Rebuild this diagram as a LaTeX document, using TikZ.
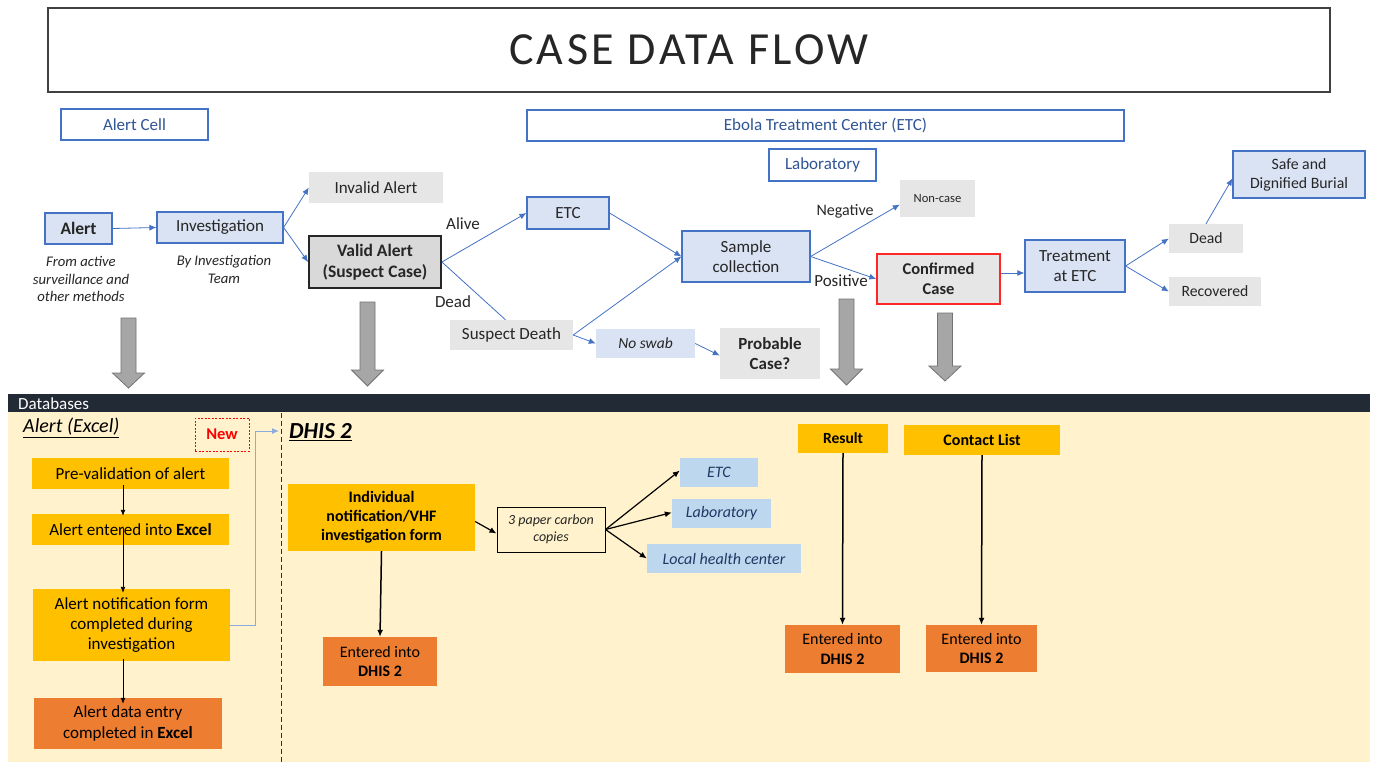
\documentclass[tikz,border=0pt]{standalone}
\usepackage{fontspec}
\setmainfont{Carlito}
\newfontfamily\titlefont[LetterSpace=7.5]{Carlito}
\usetikzlibrary{arrows.meta}
\definecolor{bl}{HTML}{4472C4}
\definecolor{lbl}{HTML}{DAE3F3}
\definecolor{dbl}{HTML}{2F5597}
\definecolor{gry}{HTML}{E7E6E6}
\definecolor{gry2}{HTML}{D9D9D9}
\definecolor{org}{HTML}{FFC000}
\definecolor{dorg}{HTML}{ED7D31}
\definecolor{sky}{HTML}{BDD7EE}
\definecolor{navy}{HTML}{1F3864}
\definecolor{cream}{HTML}{FFF2CC}
\definecolor{bar}{HTML}{222A35}
\definecolor{txt}{HTML}{262626}
\definecolor{lnk}{HTML}{8FAADC}
\newcommand{\fs}[1]{\fontsize{#1}{\the\dimexpr#1pt*6/5\relax}\selectfont}
\newcommand{\grayarrow}[4]{%
  \draw[fill=black!35,draw=black!55,line width=0.8pt] (#1-7.5,#2) -- (#1+7.5,#2) -- (#1+7.5,#3) -- (#1+16,#3) -- (#1,#4) -- (#1-16,#3) -- (#1-7.5,#3) -- cycle;}
\tikzset{
  base/.style={inner sep=0pt, align=center, text=txt, font=\fs{17}},
  outl/.style={base, draw=bl, line width=1.2pt, fill=white, text=dbl},
  bluebox/.style={base, draw=bl, line width=1.2pt, fill=lbl},
  graybox/.style={base, fill=gry},
  orgbox/.style={base, fill=org, text=black},
  dorgbox/.style={base, fill=dorg, text=black, font=\fs{16}},
  skybox/.style={base, fill=sky, text=navy, font=\fs{16}\itshape},
  lab/.style={base, font=\fs{17}},
  note/.style={base, font=\fs{14.7}\itshape, text=txt},
  barrow/.style={draw=bl, line width=0.8pt, -{Latex[length=7pt,width=6pt]}},
  karrow/.style={draw=black, line width=0.9pt, -{Latex[length=6pt,width=5pt]}},
  kkarrow/.style={draw=black, line width=1.5pt, -{Latex[length=7pt,width=6pt]}},
}
\begin{document}
\begin{tikzpicture}[x=1pt,y=-1pt]
\useasboundingbox (0,0) rectangle (1375,763);
\fill[white] (0,0) rectangle (1375,763);
% title
\node[base, draw=black!75, line width=2.5pt, minimum width=1282, minimum height=84, font=\titlefont\fs{46}] (title) at (689,50) {CASE DATA FLOW};
% headers
\node[outl, minimum width=147, minimum height=31] (cell) at (134.5,124.5) {Alert Cell};
\node[outl, minimum width=597, minimum height=31] (etctop) at (825.5,125.5) {Ebola Treatment Center (ETC)};
\node[outl, minimum width=107, minimum height=32] (labtop) at (822.5,165) {Laboratory};
% top flow
\node[bluebox, font=\fs{17.5}, minimum width=67, minimum height=31] (alert) at (78.5,228.5) {\textbf{Alert}};
\node[note] (alertnote) at (81,279) {From active\\surveillance and\\other methods};
\node[bluebox, minimum width=126, minimum height=31] (inv) at (220,227.5) {Investigation};
\node[note] (invnote) at (224,269.5) {By Investigation\\Team};
\node[graybox, minimum width=134, minimum height=31] (invalid) at (376,187.5) {Invalid Alert};
\node[base, fill=gry2, draw=black!85, line width=1.8pt, font=\fs{17.5}, minimum width=132, minimum height=52] (valid) at (375,262) {\textbf{Valid Alert}\\\textbf{(Suspect Case)}};
\node[bluebox, minimum width=82, minimum height=32] (etc) at (568,213) {ETC};
\node[graybox, minimum width=123, minimum height=30] (sd) at (511.5,335) {Suspect Death};
\node[bluebox, minimum width=128, minimum height=51] (sample) at (746,256.5) {Sample\\collection};
\node[base, fill=lbl, font=\fs{15.5}\itshape, minimum width=99, minimum height=29] (noswab) at (645.5,343.5) {No swab};
\node[graybox, minimum width=100, minimum height=51] (prob) at (770,353.5) {\textbf{Probable}\\\textbf{Case?}};
\node[graybox, font=\fs{12.6}, minimum width=75, minimum height=37] (noncase) at (937.5,198.5) {Non-case};
\node[base, fill=gry, draw=red!85, line width=1.4pt, font=\fs{16.5}, minimum width=123, minimum height=50] (conf) at (938.5,279) {\textbf{Confirmed}\\\textbf{Case}};
\node[bluebox, minimum width=100, minimum height=52] (treat) at (1075,266) {Treatment\\at ETC};
\node[graybox, font=\fs{15.7}, minimum width=74, minimum height=29] (dead) at (1206,238.5) {Dead};
\node[graybox, font=\fs{15.7}, minimum width=92, minimum height=29] (rec) at (1215,291.5) {Recovered};
\node[bluebox, font=\fs{15.8}, minimum width=132, minimum height=47] (safe) at (1299,174.5) {Safe and\\Dignified Burial};
% labels
\node[lab] (alive) at (463,224) {Alive};
\node[lab] (deadl) at (453,302) {Dead};
\node[lab, font=\fs{16}] (neg) at (845,211) {Negative};
\node[lab] (pos) at (841,281) {Positive};
% top connectors
\draw[barrow] (alert.east) -- (inv.west);
\draw[barrow] (inv.east) -- (invalid.west);
\draw[barrow] (inv.east) -- (valid.west);
\draw[barrow] (valid.east) -- (etc.west);
\draw[draw=bl, line width=0.8pt] (valid.east) -- ([xshift=-6pt]sd.north);
\draw[barrow] (etc.east) -- (sample.west);
\draw[barrow] (sd.east) -- (sample.west);
\draw[barrow] (sd.east) -- (noswab.west);
\draw[barrow] (noswab.east) -- ([yshift=-2pt]prob.west);
\draw[barrow] (sample.east) -- ([yshift=-6pt]noncase.west);
\draw[barrow] (sample.east) -- (conf.west);
\draw[barrow] ([yshift=6pt]conf.east) -- ([yshift=-7pt]treat.west);
\draw[barrow] (treat.east) -- (dead.west);
\draw[barrow] (treat.east) -- (rec.west);
\draw[barrow] (dead.north) -- ([yshift=-4pt]safe.west);
% gray block arrows
\grayarrow{128.5}{318}{373}{388}
\grayarrow{367.5}{302}{370}{386}
\grayarrow{846.5}{299}{369}{385}
\grayarrow{945}{313}{366}{381}
% databases panel
\fill[cream] (8,412) rectangle (1370,762);
\fill[bar] (8,394) rectangle (1370,412);
\node[base, text=white, anchor=west, font=\fs{17}] (dbt) at (18,403.5) {Databases};
\draw[black!80, line width=1pt, dashed, dash pattern=on 5pt off 3pt] (281,413) -- (281,762);
\node[base, anchor=west, text=black, font=\fs{20}\itshape] (alx) at (23,428) {\underline{Alert (Excel)}};
\node[base, anchor=west, text=black, font=\fs{23}\bfseries\itshape] (dhis) at (289,432) {\underline{DHIS 2}};
\node[base, draw=red, dashed, dash pattern=on 2pt off 1.5pt, line width=1pt, text=red, font=\fs{16.5}\bfseries, minimum width=54, minimum height=33] (new) at (222,434.5) {New};
% left column
\node[orgbox, minimum width=197, minimum height=31] (pre) at (130.5,473.5) {Pre-validation of alert};
\node[orgbox, minimum width=197, minimum height=31] (aent) at (130.5,529.5) {Alert entered into \textbf{Excel}};
\node[orgbox, minimum width=197, minimum height=72] (aform) at (131.5,625) {Alert notification form\\completed during\\investigation};
\node[dorgbox, font=\fs{17}, minimum width=188, minimum height=51] (adata) at (128,723.5) {Alert data entry\\completed in \textbf{Excel}};
\draw[karrow] ([xshift=-7.5pt,yshift=4pt]pre.south) -- ([xshift=-7.5pt,yshift=-2pt]aent.north);
\draw[karrow] ([xshift=-7.5pt,yshift=17pt]aent.south) -- ([xshift=-8.5pt,yshift=-4pt]aform.north);
\draw[karrow] ([xshift=-8.5pt,yshift=2pt]aform.south) -- ([xshift=-5pt,yshift=-6pt]adata.north);
\coordinate (dhisin) at (279,431);
\draw[draw=lnk, line width=1pt, -{Latex[length=7pt,width=6pt]}] (aform.east) -- (255,625) -- (255,431) -- (dhisin);
% DHIS column
\node[orgbox, font=\fs{16}\bfseries, minimum width=187, minimum height=67] (ind) at (381.5,517.5) {Individual\\notification/VHF\\investigation form};
\node[base, draw=black, line width=1pt, fill=cream, font=\fs{14}\itshape, minimum width=108, minimum height=45] (paper) at (551,529.5) {3 paper carbon\\copies};
\node[skybox, minimum width=78, minimum height=29] (etcb) at (719,472.5) {ETC};
\node[skybox, minimum width=99, minimum height=29] (labb) at (721.5,513.5) {Laboratory};
\node[skybox, minimum width=154, minimum height=29] (local) at (724,558.5) {Local health center};
\node[dorgbox, minimum width=114, minimum height=49] (ent1) at (380,661.5) {Entered into\\\textbf{DHIS 2}};
\draw[kkarrow] (ind.south) -- (ent1.north);
\draw[kkarrow, line width=1.2pt] ([yshift=-4pt]ind.east) -- ([yshift=-4pt]paper.west);
\draw[kkarrow, line width=1.2pt] (paper.east) -- ([yshift=2pt]etcb.west);
\draw[kkarrow, line width=1.2pt] (paper.east) -- ([yshift=1pt]labb.west);
\draw[kkarrow, line width=1.2pt] (paper.east) -- (local.west);
\node[orgbox, font=\fs{15.5}\bfseries, minimum width=90, minimum height=29] (res) at (843,438.5) {Result};
\node[orgbox, font=\fs{16}\bfseries, minimum width=156, minimum height=30] (cont) at (982,440) {Contact List};
\node[dorgbox, minimum width=115, minimum height=48] (ent2) at (842.5,649) {Entered into\\\textbf{DHIS 2}};
\node[dorgbox, minimum width=111, minimum height=47] (ent3) at (981.5,648.5) {Entered into\\\textbf{DHIS 2}};
\draw[kkarrow] (res.south) -- (ent2.north);
\draw[kkarrow] (cont.south) -- (ent3.north);
\end{tikzpicture}
\end{document}
